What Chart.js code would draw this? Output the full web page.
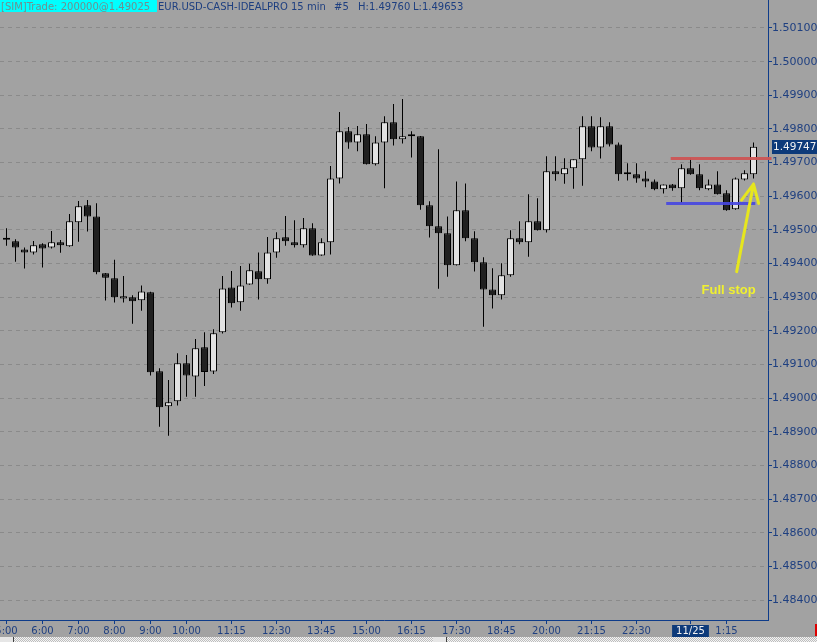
<!DOCTYPE html>
<html>
<head>
<meta charset="utf-8">
<script src="https://cdn.jsdelivr.net/npm/chart.js@4.4.0/dist/chart.umd.min.js"></script>
<style>
  html, body { margin: 0; padding: 0; background: #a2a2a2; }
  canvas { display: block; }
</style>
</head>
<body>
<canvas id="grafico" width="817" height="642"></canvas>
<script>
// Velas de 15 min EUR.USD
const opens = [
  1.49471, 1.49466, 1.49442, 1.49433, 1.49457, 1.49448, 1.49463, 1.49451, 1.49523, 1.49573,
  1.49540, 1.49371, 1.49356, 1.49296, 1.49300, 1.49291, 1.49315, 1.49080, 1.48976, 1.48991,
  1.49104, 1.49064, 1.49151, 1.49079, 1.49196, 1.49329, 1.49285, 1.49338, 1.49377, 1.49353,
  1.49433, 1.49478, 1.49463, 1.49454, 1.49505, 1.49424, 1.49463, 1.49653, 1.49793, 1.49760,
  1.49784, 1.49695, 1.49760, 1.49820, 1.49769, 1.49778, 1.49778, 1.49573, 1.49511, 1.49490,
  1.49395, 1.49558, 1.49475, 1.49404, 1.49323, 1.49306, 1.49365, 1.49475, 1.49463, 1.49526,
  1.49499, 1.49674, 1.49665, 1.49683, 1.49710, 1.49808, 1.49745, 1.49808, 1.49754, 1.49665,
  1.49665, 1.49653, 1.49644, 1.49621, 1.49635, 1.49624, 1.49683, 1.49665, 1.49621, 1.49635,
  1.49609, 1.49561, 1.49650, 1.49665
];
const highs = [
  1.49505, 1.49472, 1.49448, 1.49467, 1.49460, 1.49497, 1.49470, 1.49547, 1.49586, 1.49589,
  1.49579, 1.49372, 1.49411, 1.49363, 1.49306, 1.49335, 1.49316, 1.49089, 1.49054, 1.49133,
  1.49128, 1.49176, 1.49196, 1.49205, 1.49363, 1.49378, 1.49393, 1.49399, 1.49433, 1.49479,
  1.49493, 1.49541, 1.49529, 1.49535, 1.49520, 1.49475, 1.49690, 1.49850, 1.49806, 1.49809,
  1.49815, 1.49778, 1.49838, 1.49874, 1.49889, 1.49793, 1.49779, 1.49585, 1.49740, 1.49540,
  1.49644, 1.49638, 1.49496, 1.49419, 1.49386, 1.49401, 1.49499, 1.49526, 1.49606, 1.49594,
  1.49719, 1.49719, 1.49713, 1.49710, 1.49838, 1.49838, 1.49835, 1.49820, 1.49760, 1.49698,
  1.49698, 1.49674, 1.49650, 1.49635, 1.49636, 1.49695, 1.49713, 1.49695, 1.49650, 1.49674,
  1.49618, 1.49656, 1.49677, 1.49760
];
const lows = [
  1.49453, 1.49405, 1.49385, 1.49427, 1.49388, 1.49445, 1.49432, 1.49450, 1.49465, 1.49495,
  1.49368, 1.49290, 1.49284, 1.49284, 1.49221, 1.49260, 1.49067, 1.48915, 1.48888, 1.48978,
  1.49004, 1.49004, 1.49036, 1.49072, 1.49192, 1.49269, 1.49260, 1.49337, 1.49293, 1.49340,
  1.49417, 1.49453, 1.49448, 1.49448, 1.49423, 1.49423, 1.49427, 1.49638, 1.49741, 1.49734,
  1.49694, 1.49691, 1.49624, 1.49751, 1.49757, 1.49715, 1.49560, 1.49477, 1.49325, 1.49361,
  1.49394, 1.49466, 1.49376, 1.49212, 1.49266, 1.49293, 1.49361, 1.49457, 1.49420, 1.49498,
  1.49492, 1.49646, 1.49637, 1.49622, 1.49631, 1.49734, 1.49712, 1.49748, 1.49646, 1.49647,
  1.49640, 1.49627, 1.49618, 1.49608, 1.49616, 1.49581, 1.49664, 1.49618, 1.49618, 1.49605,
  1.49557, 1.49560, 1.49647, 1.49653
];
const closes = [
  1.49471, 1.49448, 1.49433, 1.49454, 1.49445, 1.49463, 1.49454, 1.49526, 1.49570, 1.49540,
  1.49374, 1.49358, 1.49300, 1.49303, 1.49288, 1.49317, 1.49077, 1.48973, 1.48988, 1.49104,
  1.49067, 1.49148, 1.49078, 1.49193, 1.49326, 1.49282, 1.49335, 1.49380, 1.49353, 1.49433,
  1.49475, 1.49466, 1.49454, 1.49505, 1.49424, 1.49463, 1.49653, 1.49793, 1.49760, 1.49784,
  1.49695, 1.49760, 1.49820, 1.49769, 1.49778, 1.49778, 1.49573, 1.49511, 1.49490, 1.49395,
  1.49558, 1.49475, 1.49404, 1.49323, 1.49306, 1.49365, 1.49475, 1.49463, 1.49526, 1.49499,
  1.49674, 1.49665, 1.49683, 1.49710, 1.49808, 1.49745, 1.49808, 1.49754, 1.49665, 1.49665,
  1.49653, 1.49644, 1.49621, 1.49635, 1.49624, 1.49683, 1.49665, 1.49624, 1.49635, 1.49606,
  1.49558, 1.49653, 1.49668, 1.49747
];

// Eje de tiempo: indice de vela -> etiqueta
const xTickIdx = [0, 4, 8, 12, 16, 20, 25, 30, 35, 40, 45, 50, 55, 60, 65, 70, 76, 80];
const xTickLabels = ['5:00', '6:00', '7:00', '8:00', '9:00', '10:00', '11:15', '12:30', '13:45',
  '15:00', '16:15', '17:30', '18:45', '20:00', '21:15', '22:30', '11/25', '1:15'];
const etiquetaFecha = '11/25';

// Eje de precio
const yMin = 1.483406;
const yMax = 1.501832;
const yPaso = 0.001;

// Niveles marcados (precio, vela desde, vela hasta)
const nivelPrecios = [1.49714, 1.49580];
const nivelDesde = [73.8, 73.3];
const nivelHasta = [85.0, 83.2];

// Flecha "Full stop" (vela, precio)
const flechaCola = [81.13, 1.49376];
const flechaPunta = [83.0, 1.49636];
const textoFlecha = 'Full stop';

// Cabecera
const textoTrade = '[SIM]Trade: 200000@1.49025';
const textoInstrumento = 'EUR.USD-CASH-IDEALPRO';
const textoPeriodo = '15 min';
const textoNumero = '#5';

const fondo = '#a2a2a2';
const azul = '#0e3c8a';
const azulTexto = '#1e3f80';
const blanco = '#e2e2e2';
const oscuro = '#202020';

const n = opens.length;
const ultimo = n - 1;

const cuerpos = opens.map((o, i) => ({ x: i, y: [o, closes[i]] }));
const mechas = lows.map((l, i) => ({ x: i, y: [l, highs[i]] }));
const coloresCuerpo = opens.map((o, i) => closes[i] > o ? blanco : oscuro);

const decoracion = {
  id: 'decoracion',
  beforeDraw(chart) {
    const c = chart.ctx;
    c.save();
    c.fillStyle = fondo;
    c.fillRect(0, 0, chart.width, chart.height);
    c.restore();
  },
  afterDatasetsDraw(chart) {
    const c = chart.ctx;
    const { x, y } = chart.scales;
    const coloresNivel = ['rgba(205,85,85,0.95)', 'rgba(70,70,225,0.9)'];
    c.save();
    nivelPrecios.forEach((p, k) => {
      const yy = Math.round(y.getPixelForValue(p)) + 0.5;
      c.strokeStyle = coloresNivel[k];
      c.lineWidth = 3;
      c.beginPath();
      c.moveTo(x.getPixelForValue(nivelDesde[k]), yy);
      c.lineTo(x.getPixelForValue(nivelHasta[k]), yy);
      c.stroke();
    });

    // flecha amarilla
    const sx = x.getPixelForValue(flechaCola[0]), sy = y.getPixelForValue(flechaCola[1]);
    const tx = x.getPixelForValue(flechaPunta[0]), ty = y.getPixelForValue(flechaPunta[1]);
    c.strokeStyle = '#e6e61e';
    c.lineWidth = 3;
    c.lineCap = 'round';
    c.beginPath();
    c.moveTo(sx, sy);
    c.lineTo(tx, ty);
    const ang = Math.atan2(sy - ty, sx - tx);
    [-0.45, 0.45].forEach(d => {
      c.moveTo(tx, ty);
      c.lineTo(tx + 20 * Math.cos(ang + d), ty + 20 * Math.sin(ang + d));
    });
    c.stroke();

    c.fillStyle = '#f0f030';
    c.font = "bold 13px 'Liberation Sans', Arial, sans-serif";
    c.textAlign = 'center';
    c.textBaseline = 'alphabetic';
    c.fillText(textoFlecha, sx - 8, sy + 22);
    c.restore();
  },
  afterDraw(chart) {
    const c = chart.ctx;
    const { y } = chart.scales;
    c.save();

    // cabecera
    c.fillStyle = '#00ffff';
    c.fillRect(0, 0, 157, 12);
    c.font = "10px 'DejaVu Sans', sans-serif";
    c.textBaseline = 'alphabetic';
    c.textAlign = 'left';
    c.fillStyle = '#6f8f8f';
    c.fillText(textoTrade, 1, 10);
    c.fillStyle = azulTexto;
    c.fillText(textoInstrumento, 158, 10);
    c.fillText(textoPeriodo, 291, 10);
    c.fillText(textoNumero, 334, 10);
    c.fillText('H:' + highs[ultimo].toFixed(5), 358, 10);
    c.fillText('L:' + lows[ultimo].toFixed(5), 413, 10);

    // precio actual
    const yp = Math.round(y.getPixelForValue(closes[ultimo]));
    c.fillStyle = '#0d3a7a';
    c.fillRect(772, yp - 7, 45, 14);
    c.fillStyle = '#f2f2f2';
    c.font = "10.5px 'DejaVu Sans', sans-serif";
    c.textBaseline = 'middle';
    c.fillText(closes[ultimo].toFixed(5), 773, yp);

    // franja inferior
    for (let yy = 637; yy < 642; yy++) {
      for (let xx = 0; xx < 817; xx++) {
        c.fillStyle = (xx + yy) % 2 ? '#f4f4f4' : '#bdbdbd';
        c.fillRect(xx, yy, 1, 1);
      }
    }
    c.fillStyle = '#e6e6e6';
    c.fillRect(0, 637, 13, 5);
    c.fillRect(433, 637, 13, 5);
    c.fillStyle = '#404040';
    c.fillRect(13, 637, 1, 5);
    c.fillRect(446, 637, 1, 5);
    c.fillStyle = '#dd0000';
    c.fillRect(815, 624, 2, 12);
    c.restore();
  }
};

const ctx = document.getElementById('grafico').getContext('2d');
new Chart(ctx, {
  type: 'bar',
  data: {
    datasets: [
      {
        label: 'Cuerpo',
        data: cuerpos,
        backgroundColor: coloresCuerpo,
        borderColor: '#000000',
        borderWidth: 1,
        borderSkipped: false,
        barThickness: 7,
        minBarLength: 2,
        inflateAmount: 0,
        grouped: false
      },
      {
        label: 'Mecha',
        data: mechas,
        backgroundColor: '#000000',
        borderWidth: 0,
        barThickness: 1,
        inflateAmount: 0,
        grouped: false
      }
    ]
  },
  options: {
    responsive: false,
    animation: false,
    devicePixelRatio: 1,
    events: [],
    layout: { padding: 0 },
    plugins: {
      legend: { display: false },
      tooltip: { enabled: false },
      title: { display: false }
    },
    scales: {
      x: {
        type: 'linear',
        position: 'bottom',
        min: -6.5 / 9,
        max: (768 - 6.5) / 9,
        offset: false,
        afterBuildTicks: s => { s.ticks = xTickIdx.map(v => ({ value: v })); },
        afterFit: s => { s.height = 22; s.paddingLeft = 0; s.paddingRight = 0; },
        border: { display: true, color: azul, width: 1 },
        grid: {
          display: true, drawOnChartArea: false, drawTicks: true,
          tickLength: 4, tickColor: azul, offset: false
        },
        ticks: {
          autoSkip: false, maxRotation: 0, minRotation: 0, padding: 1,
          font: { family: "'DejaVu Sans', sans-serif", size: 10 },
          color: c => (c.tick && c.tick.label === etiquetaFecha) ? '#f2f2f2' : azulTexto,
          showLabelBackdrop: c => !!(c.tick && c.tick.label === etiquetaFecha),
          backdropColor: '#0d3a7a',
          backdropPadding: { top: 0, bottom: 0, left: 4, right: 4 },
          callback: (v, i) => xTickLabels[i]
        }
      },
      y: {
        type: 'linear',
        position: 'right',
        min: yMin,
        max: yMax,
        beginAtZero: false,
        afterFit: s => { s.width = 49; s.paddingTop = 0; s.paddingBottom = 0; },
        border: { display: true, color: azul, width: 1, dash: [4, 4] },
        grid: {
          color: '#8a8a8a', lineWidth: 1, drawTicks: true,
          tickLength: 4, tickColor: azul, tickBorderDash: []
        },
        ticks: {
          stepSize: yPaso, includeBounds: false, padding: 0,
          font: { family: "'DejaVu Sans', sans-serif", size: 11 },
          color: azulTexto,
          callback: v => v.toFixed(5)
        }
      }
    }
  },
  plugins: [decoracion]
});
</script>
</body>
</html>
